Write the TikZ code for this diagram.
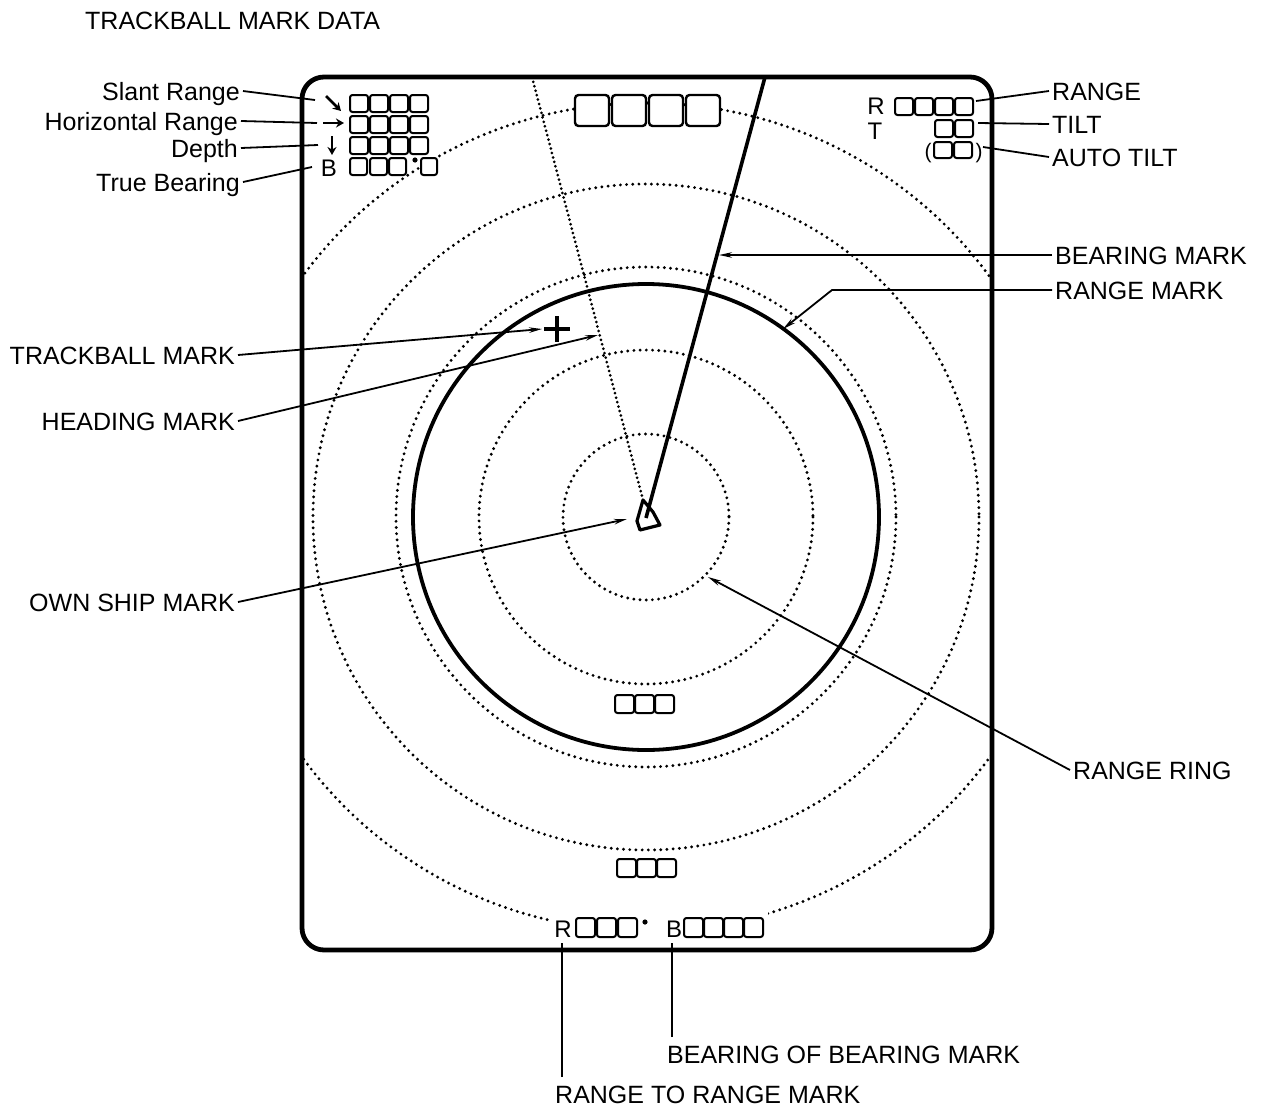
\documentclass[tikz,border=0pt]{standalone}
\usepackage{fontspec}
\setmainfont{Liberation Sans}
\usetikzlibrary{arrows.meta,calc}
\begin{document}
\begin{tikzpicture}[x=1pt,y=-1pt,
 lab/.style={font=\fontsize{25}{30}\selectfont, inner sep=3pt, text height=18pt, text depth=0pt},
 sym/.style={font=\fontsize{24}{28}\selectfont, inner sep=0pt, anchor=base},
 lead/.style={line width=1.8pt},
 leadarrow/.style={lead, -{Stealth[length=13pt,width=5.5pt]}},
 ring/.style={line width=3.2pt, line cap=round, dash pattern=on 0pt off 6.2pt},
 hdg/.style={line width=3pt, line cap=round, dash pattern=on 0pt off 4.6pt},
 sbox/.style={draw, line width=2pt, rounded corners=2.5pt, fill=white},
 bbox/.style={draw, line width=2.4pt, rounded corners=3.5pt, fill=white},
 symarrow/.style={line width=2.6pt, -{Stealth[length=8pt,width=9pt]}},
]
\useasboundingbox (0,0) rectangle (1262,1106);

% range rings
\coordinate (ctr) at (646,517);
\begin{scope}
\clip[rounded corners=22pt] (302,77) rectangle (992,950);
\foreach \r in {83,167,250,333} \draw[ring] (ctr) circle[radius=\r];
\draw[ring] (ctr) ellipse[x radius=422, y radius=414];
\end{scope}
\fill[white] (550,905) rectangle (768,942);

% range mark (solid ring)
\draw[line width=3.8pt] (ctr) circle[radius=233];

% heading mark and bearing mark
\coordinate (shiptop) at (643,500);
\coordinate (hdgend) at (532,77);
\coordinate (brgstart) at (646,518);
\coordinate (brgend) at (765,77);
\draw[hdg] (shiptop) -- (hdgend);
\draw[line width=3.6pt] (brgstart) -- (brgend);

% own ship mark
\draw[line width=3.2pt, line join=round] (shiptop) -- (637,521) -- (640,530) -- (660,525) -- (653,512) -- cycle;

% trackball mark
\draw[line width=3.8pt] (544,329) -- (570,329) (557,316) -- (557,342);

% frame
\draw[line width=4.8pt, rounded corners=22pt] (302,77) rectangle (992,950);

% top centre boxes
\foreach \x in {575,612,649,686} \draw[bbox] (\x,95) rectangle ++(34,31);

% top-left data
\foreach \y in {95,116,137} \foreach \x in {350,370,390,410} \draw[sbox] (\x,\y) rectangle ++(18,17);
\foreach \x in {350,370,389} \draw[sbox] (\x,158) rectangle ++(17,17);
\draw[sbox] (421,158) rectangle ++(16,17);
\fill (415,160) circle[radius=2.6];
\draw[symarrow] (326,96) -- (341,111);
\draw[symarrow] (323,123) -- (344,123);
\draw[symarrow] (332,136) -- (332,155);
\node[sym] (bl) at (329,176) {B};

% top-right data
\node[sym] (rl) at (876,114) {R};
\node[sym] (tl) at (875,139) {T};
\foreach \x in {895,915,935,955} \draw[sbox] (\x,98) rectangle ++(18,17);
\foreach \x in {935,955} \draw[sbox] (\x,120) rectangle ++(18,17);
\foreach \x in {934,954} \draw[sbox] (\x,142) rectangle ++(18,16);
\node[font=\fontsize{21}{24}\selectfont, inner sep=0pt, anchor=base] (lp) at (928,158) {(};
\node[font=\fontsize{21}{24}\selectfont, inner sep=0pt, anchor=base] (rp) at (979,158) {)};

% centre boxes
\foreach \x in {615,635,655} \draw[sbox] (\x,695) rectangle ++(19,18);
\foreach \x in {617,637,657} \draw[sbox] (\x,859) rectangle ++(19,18);

% bottom data
\node[sym] (br) at (563,937) {R};
\foreach \x in {576,597,618} \draw[sbox] (\x,918) rectangle ++(19,19);
\fill (645,922) circle[radius=2.6];
\node[sym] (bb) at (674,937) {B};
\foreach \x in {684,704,724,744} \draw[sbox] (\x,918) rectangle ++(19,19);

% labels
\node[lab, anchor=west] (tmd) at (82,20) {TRACKBALL MARK DATA};
\node[lab, anchor=east] (slant) at (243,91) {Slant Range};
\node[lab, anchor=east] (horiz) at (241,121) {Horizontal Range};
\node[lab, anchor=east] (depth) at (241,148) {Depth};
\node[lab, anchor=east] (tb) at (243,182) {True Bearing};
\node[lab, anchor=east] (tm) at (238,355) {TRACKBALL MARK};
\node[lab, anchor=east] (hm) at (238,421) {HEADING MARK};
\node[lab, anchor=east] (os) at (238,602) {OWN SHIP MARK};
\node[lab, anchor=west] (rng) at (1049,91) {RANGE};
\node[lab, anchor=west] (tilt) at (1049,124) {TILT};
\node[lab, anchor=west] (atilt) at (1049,157) {AUTO TILT};
\node[lab, anchor=west] (bm) at (1052,255) {BEARING MARK};
\node[lab, anchor=west] (rm) at (1052,290) {RANGE MARK};
\node[lab, anchor=west] (rr) at (1070,770) {RANGE RING};
\node[lab, anchor=west] (bobm) at (664,1054) {BEARING OF BEARING MARK};
\node[lab, anchor=west] (rtrm) at (552,1094) {RANGE TO RANGE MARK};

% leader end points
\coordinate (slantE) at (315,100);
\coordinate (horizE) at (317,123);
\coordinate (depthE) at (318,145);
\coordinate (tbE) at (312,167);
\coordinate (tmE) at (542,329);
\coordinate (hmE) at (598,335);
\coordinate (osE) at (627,519);
\coordinate (rngE) at (976,101);
\coordinate (tiltE) at (978,123);
\coordinate (atiltE) at (983,147);
\coordinate (bmE) at (719,255);
\coordinate (rmK) at (832,290);
\coordinate (rmE) at (783,329);
\coordinate (rrE) at (708,577);
\coordinate (bobmS) at (672,1037);
\coordinate (bobmE) at (672,943);
\coordinate (rtrmS) at (562,1077);
\coordinate (rtrmE) at (562,943);

% leaders
\draw[lead] (slant.east) -- (slantE);
\draw[lead] (horiz.east) -- (horizE);
\draw[lead] (depth.east) -- (depthE);
\draw[lead] (tb.east) -- (tbE);
\draw[leadarrow] (tm.east) -- (tmE);
\draw[leadarrow] (hm.east) -- (hmE);
\draw[leadarrow] (os.east) -- (osE);
\draw[lead] (rngE) -- (rng.west);
\draw[lead] (tiltE) -- (tilt.west);
\draw[lead] (atiltE) -- (atilt.west);
\draw[leadarrow] (bm.west) -- (bmE);
\draw[leadarrow] (rm.west) -- (rmK) -- (rmE);
\draw[leadarrow] (rr.west) -- (rrE);
\draw[lead] (bobmS) -- (bobmE);
\draw[lead] (rtrmS) -- (rtrmE);
\end{tikzpicture}
\end{document}
